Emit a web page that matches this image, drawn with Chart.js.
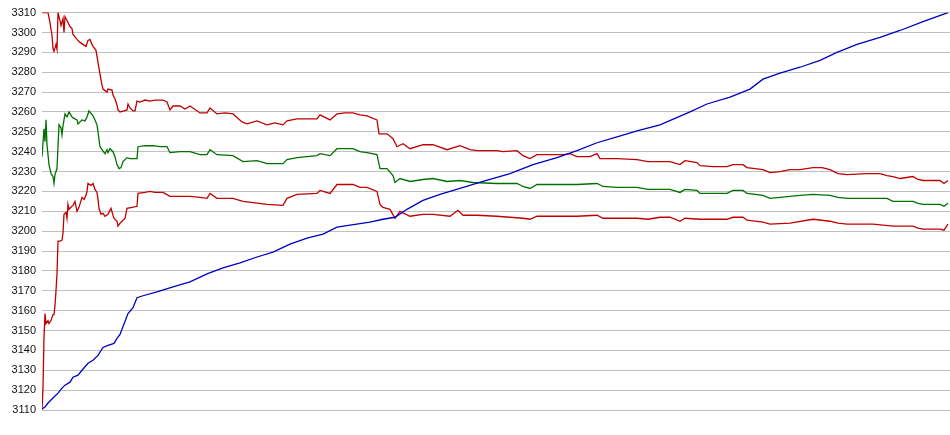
<!DOCTYPE html>
<html>
<head>
<meta charset="utf-8">
<script src="https://cdn.jsdelivr.net/npm/chart.js@4"></script>
<style>
  html, body { margin: 0; padding: 0; background: #fff; }
  #wrap { width: 950px; height: 435px; position: relative; }
</style>
</head>
<body>
<div id="wrap"><canvas id="myChart"></canvas></div>
<script>
// y axis ticks
var yMin = 3110;
var yMax = 3310;
var yStep = 10;

// upper band (red)
var upperX = [0, 6, 8, 10, 11, 12, 14, 15, 16, 18,
  19, 21, 22, 23, 25, 26, 28, 30, 31, 35,
  38, 41, 44, 46, 48, 50, 51, 54, 56, 58,
  60, 61, 65, 66, 70, 71, 73, 75, 76, 78,
  82, 85, 86, 88, 91, 93, 95, 98, 103, 108,
  113, 121, 125, 128, 131, 138, 143, 148, 158, 165,
  168, 175, 183, 191, 200, 205, 215, 225, 233, 241,
  245, 255, 265, 275, 278, 288, 295, 303, 311, 318,
  325, 335, 337, 345, 351, 355, 361, 368, 381, 391,
  405, 418, 428, 435, 455, 461, 475, 481, 488, 495,
  508, 521, 528, 535, 548, 555, 558, 575, 595, 606,
  613, 628, 638, 643, 655, 658, 671, 685, 691, 701,
  705, 713, 721, 728, 738, 748, 758, 771, 780, 788,
  796, 805, 825, 838, 845, 851, 858, 871, 876, 881,
  898, 902, 906];
var upperY = [3310, 3310, 3305, 3298.5, 3292, 3290.5, 3294, 3291.5, 3310, 3306,
  3303.5, 3307, 3300, 3308, 3306, 3305, 3303, 3302, 3299, 3296.5,
  3295, 3294, 3293, 3296, 3296.5, 3294, 3293, 3291, 3285, 3279,
  3273.5, 3271.5, 3270, 3271.5, 3271, 3268.5, 3266.5, 3263.5, 3261, 3260,
  3260.5, 3261, 3264, 3262, 3260.5, 3260.5, 3265.5, 3265, 3266, 3265.5,
  3266, 3266, 3265, 3261, 3263, 3263, 3261.5, 3263, 3259.5, 3259.5,
  3262, 3259, 3259.5, 3259, 3255, 3254, 3255.5, 3253.5, 3254.5, 3253.5,
  3255.5, 3256.5, 3256.5, 3256.5, 3258.5, 3256, 3259, 3259.5, 3259.5, 3258.5,
  3258, 3256, 3249, 3249, 3246.5, 3242.5, 3244, 3241.5, 3243.5, 3243.5,
  3241, 3243, 3241, 3240.5, 3240.5, 3240, 3240.5, 3238, 3236.5, 3238.5,
  3238.5, 3238.5, 3239, 3237.5, 3237.5, 3239, 3236.5, 3236.5, 3236, 3235,
  3235, 3235, 3233.5, 3235.5, 3234.5, 3233, 3232.5, 3232.5, 3233.5, 3233.5,
  3232, 3231.5, 3231, 3229.5, 3230, 3231, 3231, 3232, 3232, 3231,
  3229, 3228.5, 3229, 3229, 3228, 3227.5, 3226.5, 3227.5, 3226, 3225.5,
  3225.5, 3224, 3225.5];

// middle line (green)
var midX = [0, 2, 3, 4, 5, 6, 7, 9, 11, 12,
  13, 15, 16, 17, 19, 20, 21, 23, 25, 27,
  30, 31, 35, 36, 40, 43, 45, 47, 51, 53,
  55, 56, 58, 60, 63, 65, 66, 68, 71, 73,
  75, 77, 79, 81, 85, 88, 95, 96, 103, 111,
  118, 125, 128, 138, 148, 158, 165, 168, 175, 191,
  201, 215, 225, 241, 245, 255, 265, 275, 278, 288,
  295, 311, 318, 325, 335, 338, 345, 351, 353, 358,
  368, 381, 391, 405, 418, 431, 455, 475, 481, 488,
  495, 521, 535, 555, 561, 575, 595, 606, 618, 628,
  638, 643, 655, 658, 685, 691, 701, 705, 713, 721,
  728, 748, 758, 771, 788, 796, 805, 831, 845, 851,
  871, 876, 881, 898, 902, 906];
var midY = [3237.5, 3251.5, 3245, 3256, 3243.5, 3238.5, 3233.5, 3229, 3227.5, 3224,
  3228.5, 3231.5, 3242.5, 3253.5, 3252, 3248.5, 3253, 3259, 3257.5, 3260,
  3257.5, 3257, 3256, 3254, 3256, 3255.5, 3257.5, 3260.5, 3258, 3256,
  3253.5, 3250, 3242.5, 3241, 3239, 3241, 3239.5, 3241.5, 3240, 3237.5,
  3233.5, 3231.5, 3232, 3235, 3237, 3236.5, 3236.5, 3242.5, 3243, 3243,
  3242.5, 3242.5, 3239.5, 3240, 3240, 3238.5, 3238.5, 3241, 3238.5, 3238,
  3235, 3235.5, 3234, 3234, 3236, 3237, 3237.5, 3238, 3239, 3238,
  3241.5, 3241.5, 3240, 3239.5, 3238.5, 3231.5, 3231.5, 3228, 3224.5, 3226.5,
  3225, 3226, 3226.5, 3225, 3225.5, 3224.5, 3224, 3224, 3222.5, 3221.5,
  3223.5, 3223.5, 3223.5, 3224, 3222.5, 3222, 3222, 3221, 3221, 3221,
  3219.5, 3221, 3220.5, 3219, 3219, 3220.5, 3220.5, 3219, 3218.5, 3218,
  3216.5, 3217.5, 3218, 3218.5, 3218, 3217, 3216.5, 3216.5, 3216.5, 3215,
  3215, 3214, 3213.5, 3213.5, 3212.5, 3214];

// lower band (red)
var lowerX = [0, 1, 2, 3, 4, 6, 7, 9, 11, 12,
  13, 14, 15, 16, 18, 20, 21, 22, 24, 25,
  26, 27, 29, 31, 33, 35, 37, 40, 42, 44,
  45, 46, 49, 51, 53, 55, 56, 57, 59, 61,
  63, 66, 69, 71, 72, 75, 76, 78, 80, 83,
  85, 90, 95, 96, 103, 108, 113, 121, 128, 138,
  148, 158, 165, 168, 175, 191, 201, 225, 241, 245,
  255, 275, 278, 288, 295, 311, 318, 325, 335, 338,
  341, 348, 353, 358, 368, 381, 391, 408, 416, 421,
  435, 455, 481, 488, 495, 535, 555, 561, 595, 606,
  618, 628, 638, 643, 658, 685, 691, 701, 705, 721,
  728, 748, 771, 788, 796, 805, 831, 851, 871, 876,
  881, 898, 902, 906];
var lowerY = [3110, 3121.5, 3146.5, 3158.5, 3153.5, 3155, 3153.5, 3155, 3158, 3158,
  3162.5, 3170, 3178.5, 3195, 3195, 3195.5, 3199, 3208.5, 3209.5, 3206.5,
  3213.5, 3211, 3212, 3213, 3215, 3210, 3212, 3217, 3216, 3218,
  3220, 3224, 3223, 3224, 3221, 3219.5, 3216, 3211.5, 3208.5, 3209,
  3207.5, 3208.5, 3211.5, 3208, 3206.5, 3205, 3202.5, 3204, 3205, 3206.5,
  3211.5, 3212, 3212.5, 3219, 3219.5, 3220, 3219.5, 3219.5, 3217.5, 3217.5,
  3217.5, 3217, 3216.5, 3219, 3216.5, 3216.5, 3215, 3213.5, 3213, 3216.5,
  3218.5, 3219, 3220.5, 3219, 3223.5, 3223.5, 3222, 3222, 3220, 3213.5,
  3212, 3211, 3206.5, 3210, 3207.5, 3208.5, 3208.5, 3207.5, 3210.5, 3208,
  3208, 3207.5, 3206.5, 3206, 3207.5, 3207.5, 3208, 3206.5, 3206.5, 3206,
  3207, 3207, 3205, 3206.5, 3206, 3206, 3207, 3207, 3205.5, 3204.5,
  3203.5, 3204, 3206, 3205, 3204, 3203.5, 3203.5, 3202.5, 3202.5, 3201.5,
  3201, 3201, 3200.5, 3203.5];

// rising line (blue)
var riseX = [0, 3, 6, 11, 16, 20, 23, 28, 31, 36,
  40, 46, 51, 56, 61, 66, 72, 75, 78, 86,
  91, 95, 101, 115, 131, 148, 165, 181, 198, 215,
  231, 248, 265, 281, 295, 308, 328, 341, 353, 365,
  381, 398, 418, 441, 468, 491, 515, 535, 555, 575,
  595, 618, 648, 665, 688, 708, 721, 738, 758, 778,
  795, 815, 838, 858, 881, 906];
var riseY = [3110.5, 3111.5, 3113.5, 3116, 3118.5, 3121, 3122.5, 3124, 3126.5, 3127.5,
  3130, 3133.5, 3135, 3137.5, 3141.5, 3142.5, 3143.5, 3146, 3148, 3158.5,
  3161.5, 3166.5, 3167.5, 3169.5, 3172, 3174.5, 3178.5, 3181.5, 3184, 3187,
  3189.5, 3193.5, 3196.5, 3198.5, 3202, 3203, 3204.5, 3206, 3207, 3211,
  3215.5, 3218.5, 3221.5, 3225, 3229, 3233.5, 3237, 3240.5, 3244.5, 3247.5,
  3250.5, 3253.5, 3260, 3264, 3267.5, 3271.5, 3276.5, 3279.5, 3282.5, 3286,
  3290, 3294, 3297.5, 3301, 3305.5, 3310];

function pontos(xs, ys) {
  return xs.map(function (x, i) { return { x: x, y: ys[i] }; });
}

function linha(xs, ys, cor) {
  return {
    data: pontos(xs, ys),
    borderColor: cor,
    borderWidth: 1.3,
    pointRadius: 0,
    tension: 0,
    fill: false,
  };
}

var ctx = document.getElementById("myChart");
var myChart = new Chart(ctx, {
  type: "line",
  data: {
    datasets: [
      linha(riseX, riseY, "#0000c0"),
      linha(upperX, upperY, "#c00000"),
      linha(midX, midY, "#007000"),
      linha(lowerX, lowerY, "#c00000"),
    ],
  },
  options: {
    responsive: true,
    maintainAspectRatio: false,
    animation: false,
    layout: { padding: { top: 10, bottom: 25, left: 0, right: 0 } },
    plugins: { legend: { display: false }, tooltip: { enabled: false } },
    scales: {
      x: { type: "linear", min: 0, max: 908, display: false },
      y: {
        min: yMin,
        max: yMax,
        afterFit: function (scale) { scale.width = 42; },
        ticks: {
          stepSize: yStep,
          padding: 6,
          color: "#111",
          font: { family: "Liberation Sans, Arial, sans-serif", size: 11 },
          callback: function (v) { return String(v); },
        },
        grid: { color: "#c0c0c0", lineWidth: 1, drawTicks: false },
        border: { display: false },
      },
    },
  },
});
</script>
</body>
</html>
